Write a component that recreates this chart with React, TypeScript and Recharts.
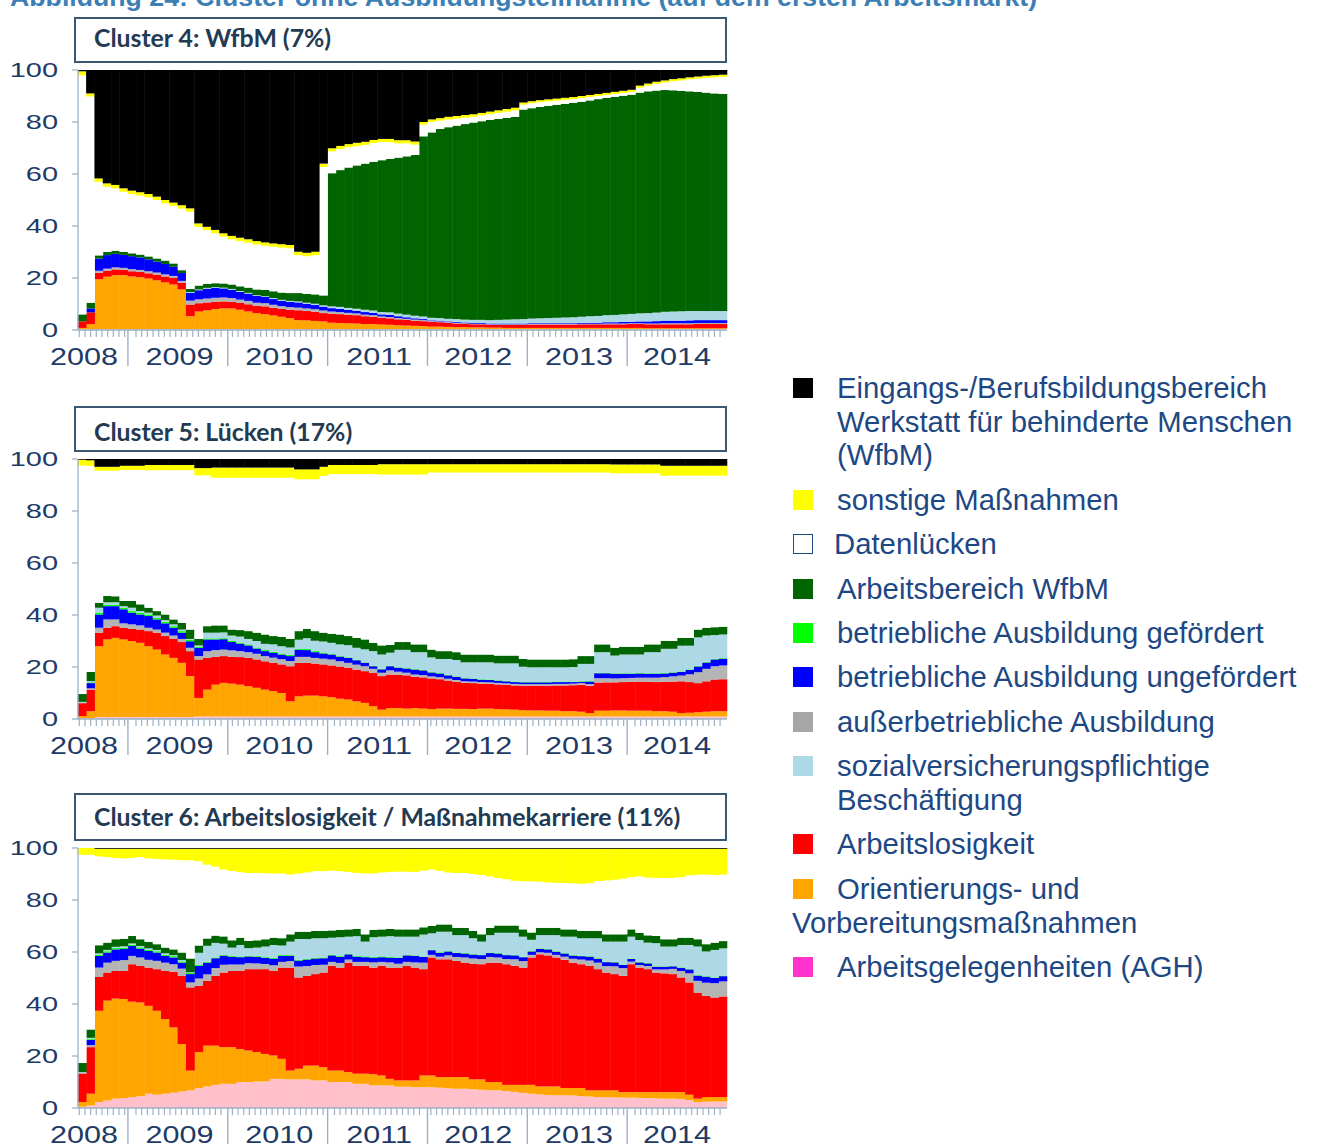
import React from 'react';
import { BarChart, Bar, XAxis, YAxis } from 'recharts';

// ---------- categories (monthly, Jul 2008 – Dec 2014) ----------
const START_YEAR = 2008;
const START_MONTH = 7;
const MONTHS = 78;
const months = Array.from({ length: MONTHS }, (_, i) => {
  const m = START_MONTH - 1 + i;
  return `${START_YEAR + Math.floor(m / 12)}-${String((m % 12) + 1).padStart(2, '0')}`;
});
const yearLabels = ['2008', '2009', '2010', '2011', '2012', '2013', '2014'];
const yTicks = [0, 20, 40, 60, 80, 100];

// ---------- Cluster 4: WfbM (7%) ----------
const c4Agh = [0.3,0.3,0.3,0.3,0.3,0.3,0.3,0.3,0.3,0.3, 0.3,0.3,0.3,0.3,0.3,0.3,0.3,0.3,0.3,0.3, 0.3,0.3,0.3,0.3,0.3,0.3,0.3,0.3,0.3,0.3, 0.3,0.3,0.3,0.3,0.3,0.3,0.3,0.3,0.3,0.3, 0.3,0.3,0.3,0.3,0.3,0.3,0.3,0.3,0.3,0.3, 0.3,0.3,0.3,0.3,0.3,0.3,0.3,0.3,0.3,0.3, 0.3,0.3,0.3,0.3,0.3,0.3,0.3,0.3,0.3,0.3, 0.3,0.3,0.3,0.3,0.3,0.3,0.3,0.3];
const c4Orient = [0.5,2,19.2,20.2,20.8,20.8,20.3,20,19.5,18.8, 18,17.2,15.3,5,6.8,7.3,7.8,8,8,7.5, 6.8,6.2,5.8,5.3,4.8,4.3,3.5,3.4,3.2,3, 2.5,2.4,2.3,2.2,2,2,1.8,1.7,1.5,1.4, 1.3,1.2,1,1,0.9,0.8,0.8,0.7,0.7,0.6, 0.6,0.5,0.5,0.5,0.5,0.5,0.5,0.5,0.5,0.5, 0.5,0.5,0.5,0.5,0.5,0.5,0.5,0.5,0.4,0.4, 0.4,0.4,0.4,0.4,0.4,0.4,0.4,0.4];
const c4Arbeitslos = [2.5,4.5,2.5,2.3,2.2,2,2,2,2,2.2, 2.3,2.5,2.5,4.5,3.2,3,2.8,2.7,2.6,2.6, 2.8,2.8,3,3,3,3.2,3.8,3.6,3.5,3.2, 3.5,3.4,3.3,3.2,3,2.8,2.6,2.5,2.3,2.2, 2,1.9,1.8,1.7,1.5,1.4,1.3,1.2,1.2,1.1, 1.1,1.2,1.2,1.2,1.3,1.3,1.3,1.3,1.3,1.3, 1.4,1.4,1.4,1.4,1.4,1.4,1.5,1.5,1.5,1.5, 1.5,1.5,1.5,1.5,1.6,1.6,1.6,1.6];
const c4Ausser = [0,0,0.8,0.8,0.8,0.8,0.8,0.8,0.8,0.8, 0.8,0.8,0.8,1.5,1.5,1.5,1.5,1.5,1.4,1.3, 1.3,1.2,1.2,1.1,1.1,1,1,1,1,1, 0.8,0.8,0.7,0.7,0.6,0.6,0.5,0.5,0.5,0.4, 0.4,0.4,0.3,0.3,0.3,0.3,0.2,0.2,0.2,0.2, 0.2,0.2,0.2,0.2,0.2,0.2,0.2,0.2,0.2,0.2, 0.2,0.2,0.2,0.3,0.3,0.3,0.3,0.3,0.3,0.3, 0.4,0.4,0.4,0.4,0.4,0.4,0.4,0.4];
const c4BetrUngef = [0,1.5,4.7,5.2,5.2,5,5,4.8,4.6,4.2, 4,3.5,3,3,3.5,3.8,3.8,3.5,3.2,3, 2.8,2.6,2.4,2.2,2,2,2,1.8,1.6,1.5, 1.3,1.2,1.1,1,1,0.9,0.8,0.8,0.7,0.6, 0.5,0.4,0.3,0.3,0.3,0.3,0.3,0.3,0.3,0.3, 0.3,0.3,0.3,0.3,0.3,0.3,0.3,0.3,0.3,0.3, 0.3,0.4,0.4,0.5,0.5,0.6,0.6,0.7,0.8,0.9, 1,1,1,1.1,1.1,1.1,1.1,1.1];
const c4BetrGef = [0,0,0,0,0,0,0,0,0,0, 0,0,0,0,0,0,0,0,0,0, 0,0,0,0,0,0,0,0,0,0, 0,0,0,0,0,0,0,0,0,0, 0,0,0,0,0,0,0,0,0,0, 0,0,0,0,0,0,0,0,0,0, 0,0,0,0,0,0,0,0,0,0, 0,0,0,0,0,0,0,0];
const c4Svb = [0,0,0,0,0,0,0,0,0,0, 0,0,0,0.3,0.3,0.3,0.3,0.3,0.3,0.3, 0.3,0.3,0.3,0.4,0.4,0.4,0.4,0.4,0.5,0.5, 0.7,0.8,0.8,0.8,0.9,0.9,0.9,1,1,1, 1,1,1,1,1,1.1,1.1,1.2,1.2,1.3, 1.4,1.5,1.6,1.7,1.8,1.9,2,2.1,2.2,2.3, 2.4,2.5,2.6,2.7,2.8,2.9,3,3.1,3.2,3.3, 3.4,3.5,3.6,3.6,3.5,3.5,3.5,3.5];
const c4Arbeit = [2.7,2.2,1.2,1.2,1.2,1.1,1.1,1.1,1.1,1.2, 1.3,1.3,1.1,1.2,1.5,1.5,1.5,1.6,1.7,1.8, 2,2.2,2.4,2.6,2.8,3,3.2,3.4,3.6,3.8, 51.2,52.6,54,55.1,56.2,57.2,58.4,59,60,60.9, 61.8,69.3,71.3,72.7,73.7,74.4,75.2,75.9,76.4,77, 77.3,77.6,77.9,80.6,80.9,81.3,81.6,81.9,82.2,82.5, 82.7,83,83.4,83.6,83.9,84.1,84.3,84.9,85.3,85.4, 85.3,85.1,84.8,84.5,84.3,84,83.7,83.5];
const c4Luecken = [92,79.3,28.3,25.1,24,23.2,22.8,22.7,22.7,22.5, 22,22.1,23.7,29.7,22.6,20.7,19.2,18,17.4,17.4, 17.3,17.3,17,17.1,17.3,17.2,14.6,14.5,15.1,49.4, 8.4,8.1,7.8,7.5,7.2,7.2,7,6.5,5.5,5, 4,4.5,4,3.2,3,2.7,2.5,2.2,2.2,2.2, 2.3,2.4,2.5,1.9,1.9,1.8,1.7,1.6,1.5,1.4, 1.4,1.3,1.2,1.1,1.1,1.1,1.1,1.9,2.2,2.6, 2.9,3.5,4,4.6,5.1,5.7,6.2,6.6];
const c4Sonstige = [1.5,1.2,1.3,1.3,1.3,1.3,1.3,1.3,1.3,1.3, 1.3,1.3,1.3,1.3,1.3,1.3,1.3,1.3,1.3,1.3, 1.3,1.3,1.3,1.3,1.3,1.3,1.3,1.3,1.3,1.3, 1.2,1.2,1.2,1.2,1.2,1.2,1.2,1.2,1.2,1.2, 1.2,1,1,1,1,1,1,1,1,1, 1,1,1,0.8,0.8,0.8,0.8,0.8,0.8,0.8, 0.8,0.8,0.8,0.8,0.8,0.8,0.8,0.8,0.8,0.8, 0.8,0.8,0.8,0.8,0.8,0.8,0.8,0.8];
const c4Eingang = [0.5,9,41.7,43.6,44.2,45.5,46.4,47,47.7,48.7, 50,51,52,53.2,59,60.3,61.5,62.8,63.8,64.5, 65.1,65.8,66.3,66.7,67,67.3,69.9,70.3,69.9,36, 30.1,29.2,28.5,28,27.6,26.9,26.5,26.5,27,27, 27.5,20,19,18.5,18,17.7,17.3,17,16.5,16, 15.5,15,14.5,12.5,12,11.6,11.3,11,10.7,10.4, 10,9.6,9.2,8.8,8.4,8,7.6,6,5.2,4.5, 4,3.5,3.2,2.8,2.5,2.2,2,1.8];

// ---------- Cluster 5: Lücken (17%) ----------
const c5Agh = [0.3,0.3,0.8,0.8,0.8,0.8,0.8,0.8,0.8,0.8, 0.8,0.8,0.8,0.8,1,1,1,1,1,1, 1,1,1,1,1,1,1,1,1,1, 1,1,1,1,1,1,1,1,1,1, 1,1,1,1,1,1,1,1,1,1, 1,1,1,1,1,1,1,1,1,1, 1,1,1,1,1,1,1,1,1,1, 1,1,1,1,1,1,1,1];
const c5Orient = [0.8,2.7,27.2,29.8,30.4,29.8,29.2,28.5,27.2,25.9, 24,22.7,20.8,15.7,7.1,10.3,12.2,12.9,12.6,12.2, 11.6,11,10.3,9.7,9,5.8,7.7,8,8,7.7, 7.4,6.8,6.5,5.8,5.2,3.9,2.6,3.2,3.2,3, 3.2,3,2.8,3,3,2.9,2.9,2.8,3,3, 2.8,2.7,2.6,2.4,2.3,2.3,2.2,2.2,2,2, 1.8,1.3,2.2,2.2,2.3,2.3,2.2,2.2,2.2,2, 2,1.8,1.3,1.4,1.6,1.8,2,2];
const c5Arbeitslos = [5,8.3,5.2,4.5,4.5,4.5,4.7,5.1,5.8,6.5, 7.1,7.3,8,9.6,14.8,12.2,10.7,10.3,10.3,10.6, 10.9,10.9,10.9,10.9,11,13.5,12.9,12.6,12.3,12.3, 12.2,12.4,12.2,12.2,12.2,12.8,12.9,12.9,12.8,12.8, 12,12,11.8,11.3,10.8,10.4,10,10,9.6,9.5, 9.5,9.4,9.3,9.4,9.5,9.5,9.6,9.7,9.9,10, 10.4,10.5,10.8,10.9,10.8,10.9,11.1,11.2,11.1,11.2, 11.3,11.6,12.2,11.8,11.2,11.7,12.2,12.3];
const c5Ausser = [0,0.5,1.9,3.2,2.6,1.7,1.7,1.6,1.3,1.2, 1.3,1.3,1.2,1.3,1.3,2.6,2.6,2.5,2.5,2.3, 2.2,2.2,2,2,2,2,2.3,2.3,2.2,2.2, 2.3,2,1.9,1.9,1.9,1.6,1.3,1.6,1.2,1, 0.9,0.9,0.8,0.8,0.7,0.7,0.6,0.6,0.6,0.6, 0.6,0.6,0.6,0.6,0.6,0.6,0.6,0.6,0.6,0.6, 0.6,0.6,1.7,1.6,1.5,1.5,1.5,1.5,1.6,1.7, 1.8,2,2.2,3,4.2,4.8,5.1,5.3];
const c5BetrUngef = [0,2,5.1,5.1,5.1,5.4,4.5,4.2,4.5,3.9, 3.6,3,2.4,2.5,3.2,4.5,4.1,4,3.2,2.9, 2.6,2,1.9,1.8,1.8,1.9,2.8,2.6,2.2,2, 1.9,1.8,1.9,1.7,1.3,1,1.3,1.6,1.5,1.6, 1.9,1.8,1.5,1.4,1.3,1.2,1.1,1,0.9,0.9, 0.8,0.8,0.7,0.7,0.7,0.7,0.7,0.7,0.7,0.6, 0.5,1,1.9,1.9,1.8,1.7,1.6,1.6,1.5,1.5, 1.4,1.4,1.4,1.7,2.2,2.4,2.6,2.6];
const c5BetrGef = [0,0.3,0.6,0.6,0.6,0.6,0.6,0.6,0.6,0.6, 0.6,0.6,0.6,0.6,0.4,0.4,0.4,0.4,0.4,0.4, 0.4,0.4,0.4,0.4,0.4,0.4,0.4,0.4,0.4,0.4, 0.2,0.2,0.2,0.2,0.2,0.2,0.2,0.2,0.2,0.2, 0.2,0.2,0.2,0.2,0.2,0.2,0.2,0.2,0.2,0.2, 0.2,0.2,0.2,0.2,0.2,0.2,0.2,0.2,0.2,0.2, 0.2,0.2,0.2,0.2,0.2,0.2,0.2,0.2,0.2,0.2, 0.2,0.2,0.2,0.2,0.2,0.2,0.2,0.2];
const c5Svb = [0.5,0.5,2,0.9,0.9,0.6,1.3,0.7,0.7,0.9, 0.6,0.7,0.6,0.3,0.5,2.2,2.2,2.2,2.1,2.3, 2.1,2.5,2.4,2.9,2.8,2.9,3.4,4.2,4,4.2, 4.3,4.5,4.7,4.6,5,5.6,5.5,5,6.7,7, 6.5,6.8,5.6,5.4,6.1,6.3,6,6.2,6.5,6.6, 6.5,6.7,7,5.8,5.6,5.6,5.6,5.5,5.5,5.6, 6.7,6.6,7.9,7.9,6.8,7.2,7.2,7.1,8.1,8.1, 9.3,9,9.9,9.1,11,10.2,9.2,9.1];
const c5Arbeit = [3,3.5,1.9,2.4,2.3,2,2.6,2.6,1.9,1.7, 2.2,1.9,2.6,3.6,2.5,2.5,2.8,2.7,2.3,2.5, 3,3.2,3.6,3.2,3.6,3.3,3.3,3.6,3.7,3.4, 3.5,3.8,3.5,3.8,3.8,3.2,3.5,3,3,3, 3,3,3,3,3,3,3,3,3,3, 3,3,3,3,3,3,3,3,3,3, 3,3,3,3,3,3,3,3,3,3, 3,3,3,3,3,3,3,3];
const c5Luecken = [87.9,79.2,50.8,48.2,48.3,50.4,50.4,51.7,52.9,54.2, 55.5,57.4,58.7,61.3,62.9,58,56.8,56.8,58.4,58.6, 59,59.6,60.3,60.9,61.2,62,58.4,57.5,58.4,60.3, 61.4,61.7,62.3,63,63.6,64.9,65.7,65.5,64.4,64.4, 65.3,65.3,68.1,68.7,68.7,69.1,70,70,70,70, 70.4,70.4,70.4,71.7,71.9,71.9,71.9,71.9,71.9,71.8, 70.6,70.6,66.1,66.1,67.1,66.7,66.7,66.7,65.8,65.8, 63.6,63.6,62.4,62.4,59.2,58.5,58.3,58.1];
const c5Sonstige = [2.2,2.2,1.5,1.5,1.5,1.6,1.6,1.6,2,2, 2,2,2,2,2.8,2.8,3.9,3.9,3.9,3.9, 3.9,3.9,3.9,3.9,3.9,3.9,3.8,3.8,3.8,3.5, 3.5,3.5,3.5,3.5,3.5,3.5,4,4,4,4, 4,4,3.2,3.2,3.2,3.2,3.2,3.2,3.2,3.2, 3.2,3.2,3.2,3.2,3.2,3.2,3.2,3.2,3.2,3.2, 3.2,3.2,3.2,3.2,3.4,3.4,3.4,3.4,3.4,3.4, 3.8,3.8,3.8,3.8,3.8,3.8,3.8,3.8];
const c5Eingang = [0.3,0.5,3,3,3,2.6,2.6,2.6,2.3,2.3, 2.3,2.3,2.3,2.3,3.5,3.5,3.3,3.3,3.3,3.3, 3.3,3.3,3.3,3.3,3.3,3.3,4,4,4,3, 2.3,2.3,2.3,2.3,2.3,2.3,2,2,2,2, 2,2,2,2,2,2,2,2,2,2, 2,2,2,2,2,2,2,2,2,2, 2,2,2,2,2.1,2.1,2.1,2.1,2.1,2.1, 2.6,2.6,2.6,2.6,2.6,2.6,2.6,2.6];

// ---------- Cluster 6: Arbeitslosigkeit / Maßnahmekarriere (11%) ----------
const c6Agh = [0.5,1,2.3,2.9,3.6,3.8,4.2,4.6,5.5,5.1, 5.5,5.9,6.4,6.8,7.7,8.3,8.9,9.3,9.3,10, 10,10.2,10.2,11.2,11.2,11,11,11,10.6,10.6, 10,10,10,9.3,9.3,8.7,8.7,8.7,8.2,8.2, 8,8,8,7.8,7.6,7.4,7.4,7.2,7,6.8, 6.8,6.5,6.2,5.8,5.5,5.2,5,4.9,4.9,4.8, 4.6,4.4,4.2,4.2,4.1,4,4,3.9,3.8,3.7, 3.6,3.6,3.5,3,2.3,2.4,2.5,2.5];
const c6Orient = [1.8,4.5,35.1,38.4,38.5,38.1,36.7,36,33.8,32.3, 28.7,25.1,18.2,7.6,13.8,15.7,15.1,14.1,14.1,12.7, 12.1,11.3,10.6,9,7.7,3.4,4.1,5.3,5.7,5.1, 4.4,4.4,3.8,3.9,3.9,4.3,3.8,2.5,2.4,2.4, 2.6,4.5,4.5,4.1,4.3,4.5,4.5,3.8,4,3.2, 3.2,2.4,2.7,3.1,3.4,3.1,3.3,3.4,2.8,2.9, 3.1,2.4,2.6,2.6,2.7,2.1,2.1,2.2,2.3,2.4, 2.5,2.5,2.6,2.1,1.3,1.8,1.7,1.7];
const c6Arbeitslos = [11,17.9,13,10.8,10.6,10.8,14.4,14.1,14.7,16, 18.5,21.4,26.2,32,25.5,24.9,26.8,28.7,29.3,30, 31.3,31.9,32.6,32.5,35.1,39.6,35.1,34.5,35.2,36.4, 40.3,39.6,42.1,41.5,41.5,41,42.2,42.8,43.4,44.1, 43.4,40.9,45.4,45.3,45.3,44.7,44,44.5,44.3,45.9, 45.9,46.4,45.8,45.1,49,50.8,50.4,49.6,49.3,48.2, 47.6,47.9,46.6,45.3,44.7,44.7,49.2,47.9,47.3,46, 45.7,45.4,44.1,43.2,40.8,39,38.3,38.7];
const c6Ausser = [0,0.8,3.6,3.8,3.9,4.2,3.2,3.2,3,3.2, 3.2,2.9,2.8,1.9,2.8,2.5,3,3,2.5,2.5, 2.3,2.2,2,2.2,2.2,2.5,4.2,3.8,3.5,3, 1.5,1.8,1.2,1.5,1.5,2,1.5,2,1.5,1.5, 2,2.5,1,1,1.5,1.5,2,2,2,2.2, 2,2,2.5,2.5,1,0.8,1,1,1.2,1.5, 1.8,2,2.5,2.5,3,3,1,1,1.2,1.2, 1.5,2,2.5,3.5,4.5,5,5.5,5.8];
const c6BetrUngef = [0,2,4.5,3.9,4.4,4.3,3.8,3.4,3.4,3.2, 2.6,2.6,2.3,3.2,4.9,4.5,3.8,3.5,3,2.8, 2.6,2.5,2.3,2.5,2.3,2,2.3,2.5,2.5,2.5, 2.5,2.3,2,2,1.8,1.8,1.8,1.8,2.2,2.5, 2.5,2.2,1.8,1.5,1.5,1.5,1.5,1.5,1.5,1.5, 1.5,1.5,1.5,1.5,1.3,1.3,1.3,1.2,1.2,1.2, 1.3,1.5,1.5,1.5,1.5,1.2,1,1,1,1, 1,1,1.2,1.5,2,2.3,2,2];
const c6BetrGef = [0,0.3,0.5,0.5,0.5,0.5,0.5,0.5,0.5,0.5, 0.5,0.5,0.5,0.4,0.3,0.3,0.3,0.3,0.3,0.3, 0.3,0.3,0.3,0.3,0.3,0.3,0.3,0.3,0.3,0.3, 0.3,0.3,0.3,0.3,0.3,0.3,0.3,0.3,0.2,0.2, 0.2,0.2,0.2,0.2,0.2,0.2,0.2,0.2,0.2,0.2, 0.2,0.2,0.2,0.2,0.2,0.2,0.2,0.2,0.2,0.2, 0.2,0.2,0.2,0.2,0.2,0.2,0.2,0.2,0.2,0.2, 0.2,0.2,0.2,0.2,0.2,0.2,0.2,0.2];
const c6Svb = [0.5,0.5,0.5,0.5,0.5,0.5,0.5,0.5,0.5,0.5, 0.5,0.4,0.5,0.3,4.7,6.2,5.6,4.3,3.2,4.4, 2.9,3.3,4.1,5,3.7,5.2,8,7.6,7.5,7.4, 6.5,7.3,6.5,7.6,5.7,7.6,7.6,8,8,7, 7.2,8.4,6.3,7.9,7.4,6.7,6.9,6.1,5,6.7, 7.8,8.4,8.5,7.7,4.3,5.1,5.3,6.2,6.3,7.1, 6.7,6.9,7.7,7.7,7.8,8.8,8.4,8.4,7.8,8.9, 7.6,7.4,8.6,9.2,11,9.5,10.6,10.5];
const c6Arbeit = [3.5,3.2,3.1,2.8,2.9,2.9,2.9,2.6,2.5,2.2, 2.2,2.2,2.9,5.3,2.8,2.8,2.8,2.8,2.8,2.8, 2.8,2.8,2.8,2.8,2.8,2.8,2.8,2.8,2.8,2.8, 2.8,2.8,2.8,2.8,2.8,2.8,2.8,2.8,2.8,2.8, 2.8,2.8,2.8,2.8,2.8,2.8,2.8,2.8,2.8,2.8, 2.8,2.8,2.8,2.8,2.8,2.8,2.8,2.8,2.8,2.8, 2.8,2.8,2.8,2.8,2.8,2.8,2.8,2.8,2.8,2.8, 2.8,2.8,2.8,2.8,2.8,2.8,2.8,2.8];
const c6Luecken = [80.1,67.2,34.2,32.9,31.3,30.9,30,31.6,32.1,32.8, 33.9,34.5,35.5,37.8,32.4,28.4,26.5,25.7,26.7,25.3, 26.1,25.9,25.4,24.7,24.9,23,22.4,22.8,23,23, 23,22.6,22.1,21.5,23.4,21.7,21.9,21.9,22.2,22.2, 22.1,21.8,21.7,20.6,20,21.1,21.1,21.9,22.8,19.8, 18.3,17.8,17.2,18.5,19.7,17.7,17.5,17.3,17.9,17.7, 18.1,18.4,19.2,20.7,21,21.4,20.1,21.7,22.2,22.3, 23.6,23.6,23.3,24,24.8,26.8,26,25.6];
const c6Sonstige = [2.6,2.6,2.9,3.2,3.5,3.7,3.5,3.2,3.7,3.9, 4.1,4.2,4.4,4.4,4.8,6.1,6.9,8,8.5,8.9, 9.3,9.3,9.4,9.5,9.5,9.9,9.5,9.1,8.6,8.6, 8.4,8.6,8.9,9.3,9.5,9.5,9.1,8.9,8.8,8.8, 8.9,8.4,8,8.5,9.1,9.3,9.3,9.7,10.1,10.6, 11.2,11.7,12.3,12.5,12.5,12.7,12.9,13.1,13.1,13.3, 13.5,13.2,12.4,12.2,11.9,11.5,10.9,10.6,11.1,11.2, 11.2,11.2,10.9,10.2,10,9.9,10.1,9.9];
const c6Eingang = [0,0,0.3,0.3,0.3,0.3,0.3,0.3,0.3,0.3, 0.3,0.3,0.3,0.3,0.3,0.3,0.3,0.3,0.3,0.3, 0.3,0.3,0.3,0.3,0.3,0.3,0.3,0.3,0.3,0.3, 0.3,0.3,0.3,0.3,0.3,0.3,0.3,0.3,0.3,0.3, 0.3,0.3,0.3,0.3,0.3,0.3,0.3,0.3,0.3,0.3, 0.3,0.3,0.3,0.3,0.3,0.3,0.3,0.3,0.3,0.3, 0.3,0.3,0.3,0.3,0.3,0.3,0.3,0.3,0.3,0.3, 0.3,0.3,0.3,0.3,0.3,0.3,0.3,0.3];

// ---------- series (stack order bottom -> top) ----------
const SERIES = [
  { key: 'agh', fill: '#ffc0cb' },
  { key: 'orient', fill: '#ffa500' },
  { key: 'arbeitslos', fill: '#ff0000' },
  { key: 'ausser', fill: '#b4b4b4' },
  { key: 'betrUngef', fill: '#0000ff' },
  { key: 'betrGef', fill: '#00ff00' },
  { key: 'svb', fill: '#add8e6' },
  { key: 'arbeit', fill: '#006400' },
  { key: 'luecken', fill: '#ffffff' },
  { key: 'sonstige', fill: '#ffff00' },
  { key: 'eingang', fill: '#000000' },
];

function buildRows(s: Record<string, number[]>) {
  return months.map((m, i) => {
    const row: Record<string, number | string> = { month: m, t: i + 0.5 };
    Object.keys(s).forEach((k) => { row[k] = s[k][i]; });
    return row;
  });
}

const data4 = buildRows({ agh: c4Agh, orient: c4Orient, arbeitslos: c4Arbeitslos, ausser: c4Ausser, betrUngef: c4BetrUngef, betrGef: c4BetrGef, svb: c4Svb, arbeit: c4Arbeit, luecken: c4Luecken, sonstige: c4Sonstige, eingang: c4Eingang });
const data5 = buildRows({ agh: c5Agh, orient: c5Orient, arbeitslos: c5Arbeitslos, ausser: c5Ausser, betrUngef: c5BetrUngef, betrGef: c5BetrGef, svb: c5Svb, arbeit: c5Arbeit, luecken: c5Luecken, sonstige: c5Sonstige, eingang: c5Eingang });
const data6 = buildRows({ agh: c6Agh, orient: c6Orient, arbeitslos: c6Arbeitslos, ausser: c6Ausser, betrUngef: c6BetrUngef, betrGef: c6BetrGef, svb: c6Svb, arbeit: c6Arbeit, luecken: c6Luecken, sonstige: c6Sonstige, eingang: c6Eingang });

// ---------- x-axis decoration (positions in month units) ----------
const yearStarts = yearLabels.slice(1).map((y) => months.indexOf(`${y}-01`));
const yearLabelPos = [0.72, 12.2, 24.2, 36.2, 48.1, 60.2, 72.0];
const minorTicks = Array.from({ length: 114 }, (_, k) => +(0.156 + k * 0.6815).toFixed(3)).filter(
  (v) => yearStarts.every((s) => Math.abs(v - s) > 0.3)
);
const allXTicks = [...minorTicks, ...yearStarts, ...yearLabelPos];

const AXIS = '#9db1c6';
const NAVY = '#1e3a66';
const AX_FONT = "'Liberation Sans', Arial, sans-serif";

function XTick(props: any) {
  const { x, y, payload } = props;
  const v = payload.value;
  const li = yearLabelPos.indexOf(v);
  if (li >= 0) {
    return (
      <text transform={`translate(${x},${y + 35}) scale(1.33,1)`} textAnchor="middle" fontSize={23} fill={NAVY} fontFamily={AX_FONT}>
        {yearLabels[li]}
      </text>
    );
  }
  if (yearStarts.indexOf(v) >= 0) {
    return <line x1={x} x2={x} y1={y} y2={y + 36} stroke={AXIS} strokeWidth={1.4} />;
  }
  return <line x1={x} x2={x} y1={y} y2={y + 7} stroke={AXIS} strokeWidth={1.2} />;
}

function YTick(props: any) {
  const { x, y, payload } = props;
  return (
    <text transform={`translate(${x},${y}) scale(1.45,1)`} textAnchor="end" dy="0.36em" fontSize={20} fill={NAVY} fontFamily={AX_FONT}>
      {payload.value}
    </text>
  );
}

// bar segment drawn from the library's computed geometry, widened slightly so neighbouring months join seamlessly
function Seg(props: any) {
  const { x, y, width, height, fill } = props;
  if (!height || height <= 0 || !width) return null;
  return <rect x={x - 0.2} y={y} width={width + 0.8} height={height} fill={fill} />;
}

function Panel({ data, top }: { data: any[]; top: number }) {
  return (
    <div style={{ position: 'absolute', left: 0, top }}>
      <BarChart width={737} height={310} data={data} margin={{ top: 10, right: 10, bottom: 0, left: 0 }} barCategoryGap={0} barGap={0}>
        <XAxis xAxisId="cat" dataKey="month" hide height={0} />
        <XAxis
          xAxisId="t"
          type="number"
          dataKey="t"
          domain={[0, MONTHS]}
          allowDataOverflow
          ticks={allXTicks}
          interval={0}
          tick={XTick}
          tickLine={false}
          tickSize={0}
          tickMargin={0}
          axisLine={{ stroke: AXIS, strokeWidth: 1.3 }}
          height={40}
        />
        <YAxis
          yAxisId="y"
          domain={[0, 100]}
          allowDataOverflow
          ticks={yTicks}
          interval={0}
          width={78}
          tick={YTick}
          tickSize={6}
          tickMargin={14}
          axisLine={{ stroke: AXIS, strokeWidth: 1.3 }}
          tickLine={{ stroke: AXIS, strokeWidth: 1.3 }}
        />
        {SERIES.map((s) => (
          <Bar key={s.key} xAxisId="cat" yAxisId="y" dataKey={s.key} stackId="s" fill={s.fill} shape={Seg} isAnimationActive={false} />
        ))}
      </BarChart>
    </div>
  );
}

const panelTitles = [
  'Cluster 4: WfbM (7%)',
  'Cluster 5: Lücken (17%)',
  'Cluster 6: Arbeitslosigkeit / Maßnahmekarriere (11%)',
];

function TitleBox({ text, top, height, baseline }: { text: string; top: number; height: number; baseline: number }) {
  return (
    <>
      <div style={{ position: 'absolute', left: 74, top, width: 653, height, boxSizing: 'border-box', border: '2px solid #3a5872', background: '#fff' }} />
      <div
        style={{
          position: 'absolute', left: 94, top: baseline - 22.6, fontFamily: 'Lato, sans-serif', fontWeight: 700,
          fontSize: 24.8, lineHeight: '26px', color: '#233a52', whiteSpace: 'nowrap',
        }}
      >
        {text}
      </div>
    </>
  );
}

const legendItems = [
  { color: '#000000', lines: ['Eingangs-/Berufsbildungsbereich', 'Werkstatt für behinderte Menschen', '(WfbM)'], y: 388 },
  { color: '#ffff00', lines: ['sonstige Maßnahmen'], y: 500 },
  { color: '#ffffff', outline: true, lines: ['Datenlücken'], y: 544, tx: 834 },
  { color: '#006400', lines: ['Arbeitsbereich WfbM'], y: 589 },
  { color: '#00ff00', lines: ['betriebliche Ausbildung gefördert'], y: 633 },
  { color: '#0000ff', lines: ['betriebliche Ausbildung ungefördert'], y: 677 },
  { color: '#a6a6a6', lines: ['außerbetriebliche Ausbildung'], y: 722 },
  { color: '#add8e6', lines: ['sozialversicherungspflichtige', 'Beschäftigung'], y: 766 },
  { color: '#ff0000', lines: ['Arbeitslosigkeit'], y: 844 },
  { color: '#ffa500', lines: ['Orientierungs- und'], y: 889, wrap: 'Vorbereitungsmaßnahmen' },
  { color: '#ff33cc', lines: ['Arbeitsgelegenheiten (AGH)'], y: 967 },
];
const LEG_COLOR = '#1d4884';
const LINE_GAP = 33.5;

function Legend() {
  const txt = (s: string, x: number, cy: number, key: string) => (
    <div key={key} style={{ position: 'absolute', left: x, top: cy - 16.7, fontFamily: AX_FONT, fontSize: 29.3, lineHeight: '34px', color: LEG_COLOR, whiteSpace: 'nowrap' }}>
      {s}
    </div>
  );
  return (
    <>
      {legendItems.map((it, i) => (
        <React.Fragment key={i}>
          <div
            style={{
              position: 'absolute', left: 793, top: it.y - 10, width: 20, height: 20, boxSizing: 'border-box',
              background: it.color, border: it.outline ? `1.5px solid ${LEG_COLOR}` : 'none',
            }}
          />
          {it.lines.map((l, j) => txt(l, it.tx ?? 837, it.y + j * LINE_GAP, `l${i}-${j}`))}
          {it.wrap ? txt(it.wrap, 792, it.y + LINE_GAP, `w${i}`) : null}
        </React.Fragment>
      ))}
    </>
  );
}

export default function App() {
  return (
    <div style={{ position: 'absolute', left: 0, top: 0, width: 1317, height: 1147, overflow: 'hidden', background: '#fff' }}>
      <div
        style={{
          position: 'absolute', left: 10, top: -18.3, fontFamily: AX_FONT, fontWeight: 700, fontSize: 26.7, lineHeight: '30px',
          color: '#3d7fb5', whiteSpace: 'nowrap',
        }}
      >
        Abbildung 24: Cluster ohne Ausbildungsteilnahme (auf dem ersten Arbeitsmarkt)
      </div>
      <Panel data={data4} top={60} />
      <Panel data={data5} top={449} />
      <Panel data={data6} top={838} />
      <TitleBox text={panelTitles[0]} top={17} height={46} baseline={48} />
      <TitleBox text={panelTitles[1]} top={406} height={46} baseline={442} />
      <TitleBox text={panelTitles[2]} top={793} height={48} baseline={827} />
      <Legend />
    </div>
  );
}
